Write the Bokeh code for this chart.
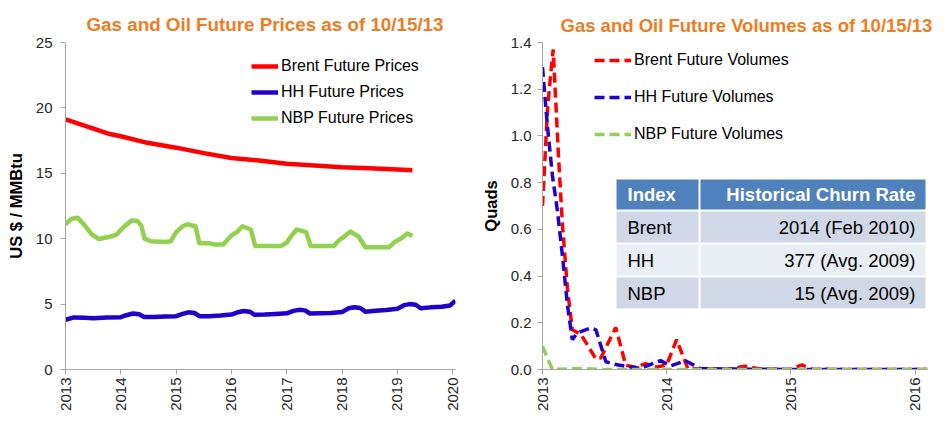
import numpy as np
from bokeh.plotting import figure
from bokeh.layouts import row
from bokeh.models import Range1d, Legend, LegendItem, FixedTicker, NumeralTickFormatter
from bokeh.embed import file_html
from bokeh.resources import INLINE
from bokeh.core.properties import value

# ---------------- data ----------------
brent_x = [2013.0, 2013.45, 2013.8, 2014.0, 2014.48, 2015.0, 2015.5, 2016.0, 2016.5,
           2017.0, 2017.5, 2018.0, 2018.5, 2019.0, 2019.27]
brent_y = [19.13, 18.49, 18.0, 17.83, 17.33, 16.96, 16.54, 16.17, 15.98,
           15.73, 15.6, 15.46, 15.38, 15.29, 15.24]

hh_x = [2013.0, 2013.15, 2013.35, 2013.5, 2013.75, 2014.0, 2014.1, 2014.22, 2014.33, 2014.42,
        2014.6, 2014.8, 2015.0, 2015.12, 2015.22, 2015.33, 2015.42, 2015.6, 2015.8, 2016.0,
        2016.12, 2016.22, 2016.33, 2016.42, 2016.6, 2016.8, 2017.0, 2017.12, 2017.22, 2017.33,
        2017.42, 2017.6, 2017.8, 2018.0, 2018.12, 2018.22, 2018.33, 2018.42, 2018.6, 2018.8,
        2019.0, 2019.12, 2019.22, 2019.33, 2019.42, 2019.6, 2019.8, 2019.95, 2020.05]
hh_y = [3.80, 3.98, 3.95, 3.92, 3.97, 4.0, 4.15, 4.28, 4.22, 4.02,
        4.02, 4.05, 4.08, 4.25, 4.37, 4.32, 4.08, 4.08, 4.12, 4.2,
        4.38, 4.47, 4.42, 4.18, 4.2, 4.25, 4.3, 4.48, 4.56, 4.52,
        4.28, 4.3, 4.32, 4.4, 4.68, 4.76, 4.7, 4.42, 4.5, 4.55,
        4.65, 4.92, 5.0, 4.95, 4.68, 4.75, 4.8, 4.9, 5.25]

nbp_x = [2013.0, 2013.1, 2013.22, 2013.35, 2013.48, 2013.6, 2013.8, 2013.92, 2014.05, 2014.2,
         2014.3, 2014.37, 2014.43, 2014.55, 2014.8, 2014.9, 2015.0, 2015.12, 2015.2, 2015.35,
         2015.42, 2015.6, 2015.7, 2015.85, 2016.0, 2016.1, 2016.2, 2016.35, 2016.43, 2016.9,
         2017.0, 2017.08, 2017.18, 2017.35, 2017.43, 2017.85, 2017.95, 2018.05, 2018.15, 2018.3,
         2018.42, 2018.85, 2018.95, 2019.08, 2019.18, 2019.27]
nbp_y = [11.1, 11.5, 11.6, 11.0, 10.3, 9.98, 10.15, 10.3, 10.9, 11.4,
         11.35, 11.0, 10.0, 9.8, 9.75, 9.8, 10.5, 10.95, 11.1, 10.95,
         9.65, 9.65, 9.55, 9.55, 10.25, 10.5, 10.95, 10.7, 9.45, 9.45,
         9.7, 10.2, 10.7, 10.5, 9.45, 9.45, 9.9, 10.2, 10.55, 10.15,
         9.35, 9.35, 9.75, 10.05, 10.4, 10.2]

brent_vol_x = [2013.0, 2013.04, 2013.065, 2013.086, 2013.13, 2013.16, 2013.2, 2013.24, 2013.31,
               2013.43, 2013.47, 2013.59, 2013.67, 2013.75, 2013.83, 2013.92, 2014.0, 2014.08,
               2014.17, 2014.3, 2014.5, 2014.63, 2014.75, 2015.0, 2015.09, 2015.17, 2015.5, 2016.1]
brent_vol_y = [0.70, 1.11, 1.26, 1.37, 0.90, 0.625, 0.35, 0.17, 0.15,
               0.045, 0.05, 0.18, 0.018, 0.01, 0.025, 0.01, 0.02, 0.128,
               0.004, 0.002, 0.002, 0.014, 0.002, 0.001, 0.02, 0.001, 0.0, 0.0]

hh_vol_x = [2013.0, 2013.04, 2013.08, 2013.12, 2013.16, 2013.2, 2013.24, 2013.28, 2013.39,
            2013.43, 2013.51, 2013.6, 2013.79, 2013.95, 2014.03, 2014.15, 2014.27, 2014.5,
            2015.0, 2015.5, 2016.1]
hh_vol_y = [1.295, 1.04, 0.83, 0.68, 0.49, 0.28, 0.128, 0.157, 0.178,
            0.17, 0.033, 0.02, 0.005, 0.038, 0.015, 0.038, 0.004, 0.002,
            0.0, 0.0, 0.0]

nbp_vol_x = [2013.0, 2013.08, 2013.3, 2013.5, 2014.0, 2015.0, 2016.1]
nbp_vol_y = [0.10, 0.0, 0.004, 0.0, 0.0, 0.0, 0.0]

price_years = [2013, 2014, 2015, 2016, 2017, 2018, 2019, 2020]
price_ticks = [0, 5, 10, 15, 20, 25]
vol_years = [2013, 2014, 2015, 2016]
vol_ticks = [0.0, 0.2, 0.4, 0.6, 0.8, 1.0, 1.2, 1.4]

table_header = ["Index", "Historical Churn Rate"]
table_index = ["Brent", "HH", "NBP"]
table_rates = ["2014 (Feb 2010)", "377 (Avg. 2009)", "15 (Avg. 2009)"]

# ---------------- styles ----------------
FONT = "Liberation Sans"
RED = "#FF0000"
BLUE = "#2100CC"
GREEN = "#92D050"
ORANGE = "#EE7D22"
AXIS = "#A6A6A6"
TXT = "#262626"

FRAME_TOP = 42
FRAME_H = 327
BOTTOM = 43


def style(p):
    p.grid.visible = False
    p.outline_line_color = None
    p.background_fill_color = "white"
    p.border_fill_color = "white"
    for ax in (p.xaxis[0], p.yaxis[0]):
        ax.axis_line_color = AXIS
        ax.major_tick_line_color = AXIS
        ax.major_tick_out = 5
        ax.major_tick_in = 0
        ax.minor_tick_line_color = None
        ax.major_label_text_font = FONT
        ax.major_label_text_font_size = "15px"
        ax.major_label_text_color = TXT
        ax.axis_label_text_font = FONT
        ax.axis_label_text_font_size = "16.5px"
        ax.axis_label_text_font_style = "bold"
        ax.axis_label_text_color = "black"
    p.xaxis.major_label_orientation = np.pi / 2
    p.xaxis.major_label_standoff = 3
    p.title.text_font = FONT
    p.title.text_font_style = "bold"
    p.title.text_color = ORANGE
    p.title.align = "left"


# ---------------- left: prices ----------------
p1 = figure(frame_width=390, frame_height=FRAME_H, output_backend="svg", toolbar_location=None,
            x_range=Range1d(2013, 2020.05), y_range=Range1d(0, 25),
            min_border_left=65, min_border_right=21, min_border_top=FRAME_TOP,
            min_border_bottom=BOTTOM,
            title="Gas and Oil Future Prices as of 10/15/13")
style(p1)
p1.title.text_font_size = "18.8px"
p1.title.offset = 21
p1.title.standoff = 16
p1.xaxis.ticker = FixedTicker(ticks=price_years)
p1.yaxis.ticker = FixedTicker(ticks=price_ticks)
p1.yaxis.axis_label = "US $ / MMBtu"
p1.yaxis.major_label_standoff = 8
p1.yaxis.axis_label_standoff = 8

r_b = p1.line(brent_x, brent_y, line_color=RED, line_width=4.5, line_join="round")
r_h = p1.line(hh_x, hh_y, line_color=BLUE, line_width=4.5, line_join="round")
r_n = p1.line(nbp_x, nbp_y, line_color=GREEN, line_width=4.5, line_join="round")

leg1 = Legend(items=[LegendItem(label="Brent Future Prices", renderers=[r_b]),
                     LegendItem(label="HH Future Prices", renderers=[r_h]),
                     LegendItem(label="NBP Future Prices", renderers=[r_n])],
              location=(186, 241), padding=0, margin=0, spacing=6,
              glyph_width=27, glyph_height=20, label_height=20, label_standoff=3,
              label_text_font=FONT, label_text_font_size="16px", label_text_color="black",
              background_fill_alpha=0, border_line_color=None)
p1.add_layout(leg1)

# ---------------- right: volumes ----------------
p2 = figure(frame_width=385, frame_height=FRAME_H, output_backend="svg", toolbar_location=None,
            x_range=Range1d(2013, 2016.1), y_range=Range1d(0, 1.4),
            min_border_left=66, min_border_right=8, min_border_top=FRAME_TOP,
            min_border_bottom=BOTTOM,
            title="Gas and Oil Future Volumes as of 10/15/13")
style(p2)
p2.title.text_font_size = "18.5px"
p2.title.offset = 18
p2.title.standoff = 13
p2.xaxis.ticker = FixedTicker(ticks=vol_years)
p2.yaxis.ticker = FixedTicker(ticks=vol_ticks)
p2.yaxis.formatter = NumeralTickFormatter(format="0.0")
p2.yaxis.axis_label = "Quads"
p2.yaxis.major_label_standoff = 6
p2.yaxis.axis_label_standoff = 8

DASH = "10 5"
v_b = p2.line(brent_vol_x, brent_vol_y, line_color=RED, line_width=3.5, line_dash=DASH)
v_h = p2.line(hh_vol_x, hh_vol_y, line_color=BLUE, line_width=3.5, line_dash=DASH)
v_n = p2.line(nbp_vol_x, nbp_vol_y, line_color=GREEN, line_width=3.5, line_dash=DASH)

leg2 = Legend(items=[LegendItem(label="Brent Future Volumes", renderers=[v_b]),
                     LegendItem(label="HH Future Volumes", renderers=[v_h]),
                     LegendItem(label="NBP Future Volumes", renderers=[v_n])],
              location=(52, 225), padding=0, margin=0, spacing=17,
              glyph_width=37, glyph_height=20, label_height=20, label_standoff=3,
              label_text_font=FONT, label_text_font_size="16px", label_text_color="black",
              background_fill_alpha=0, border_line_color=None)
p2.add_layout(leg2)

# table drawn in the volume plot (canvas pixels converted through the frame scale)
FX0, FPX = 476 + 66, 385 / 3.1
FY0, FPY = FRAME_TOP + FRAME_H, FRAME_H / 1.4


def tx(px):
    return 2013 + (px - FX0) / FPX


def ty(py):
    return (FY0 - py) / FPY


col_l = [616, 700]
col_r = [698, 925]
row_t = [179, 211, 244, 277]
row_b = [209, 242, 275, 308]
row_fill = ["#4F81BD", "#D0D8E8", "#E9EDF4", "#D0D8E8"]
ql, qr, qt, qb, qf = [], [], [], [], []
for i in range(4):
    for j in range(2):
        ql.append(tx(col_l[j])); qr.append(tx(col_r[j]))
        qt.append(ty(row_t[i])); qb.append(ty(row_b[i])); qf.append(row_fill[i])
p2.quad(left=ql, right=qr, top=qt, bottom=qb, fill_color=qf, line_color=None)

row_c = [(row_t[i] + row_b[i]) / 2 for i in range(4)]
p2.text(x=[tx(627)], y=[ty(row_c[0])], text=[table_header[0]], text_font=value(FONT),
        text_font_size="18.5px", text_font_style="bold", text_color="white",
        text_align="left", text_baseline="middle")
p2.text(x=[tx(915)], y=[ty(row_c[0])], text=[table_header[1]], text_font=value(FONT),
        text_font_size="18.5px", text_font_style="bold", text_color="white",
        text_align="right", text_baseline="middle")
p2.text(x=[tx(627)] * 3, y=[ty(c) for c in row_c[1:]], text=table_index, text_font=value(FONT),
        text_font_size="18.5px", text_color="black", text_align="left", text_baseline="middle")
p2.text(x=[tx(915)] * 3, y=[ty(c) for c in row_c[1:]], text=table_rates, text_font=value(FONT),
        text_font_size="18.5px", text_color="black", text_align="right", text_baseline="middle")

layout = row(p1, p2)
open("out.html", "w").write(file_html(layout, INLINE))
